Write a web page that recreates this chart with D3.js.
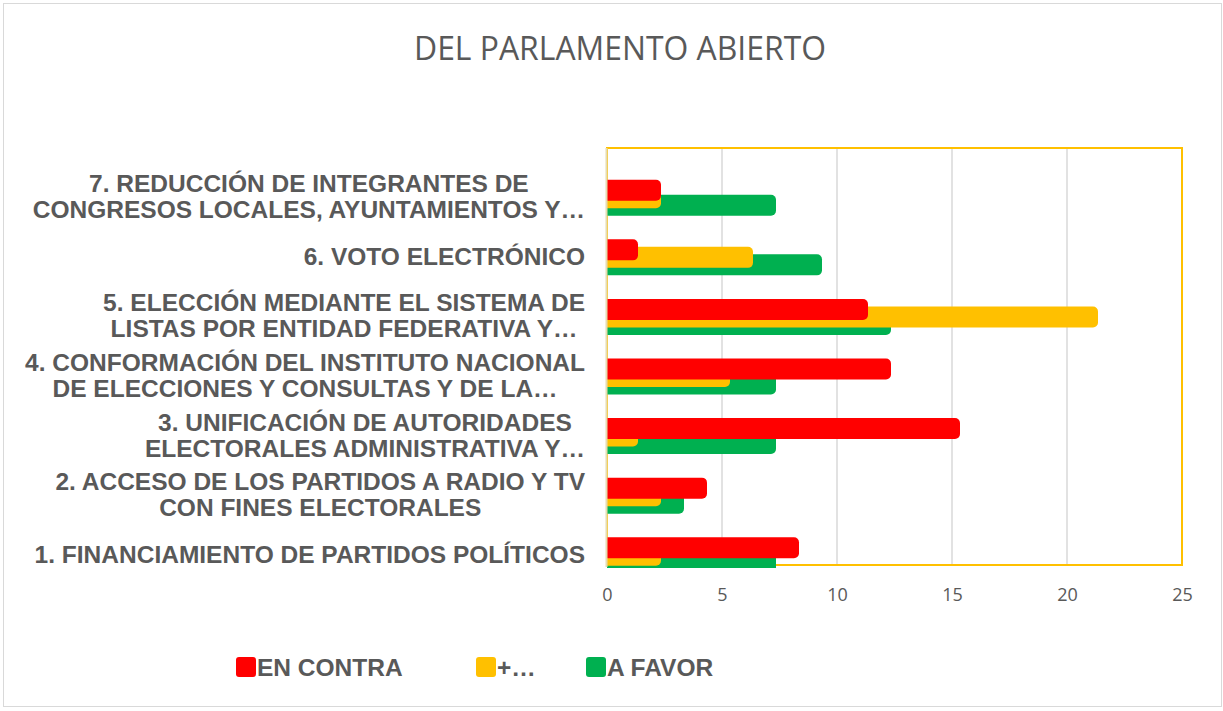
<!DOCTYPE html>
<html>
<head>
<meta charset="utf-8">
<script src="https://cdn.jsdelivr.net/npm/d3@7"></script>
<style>
  html, body { margin: 0; padding: 0; background: #fff; }
  svg { display: block; }
</style>
</head>
<body>
<svg id="chart" width="1223" height="711"></svg>
<script>
// ---- DATA ----
const title = "DEL PARLAMENTO ABIERTO";
const categories = [
  ["1. FINANCIAMIENTO DE PARTIDOS POLÍTICOS"],
  ["2. ACCESO DE LOS PARTIDOS A RADIO Y TV", "CON FINES ELECTORALES"],
  ["3. UNIFICACIÓN DE AUTORIDADES", "ELECTORALES ADMINISTRATIVA Y…"],
  ["4. CONFORMACIÓN DEL INSTITUTO NACIONAL", "DE ELECCIONES Y CONSULTAS Y DE LA…"],
  ["5. ELECCIÓN MEDIANTE EL SISTEMA DE", "LISTAS POR ENTIDAD FEDERATIVA Y…"],
  ["6. VOTO ELECTRÓNICO"],
  ["7. REDUCCIÓN DE INTEGRANTES DE", "CONGRESOS LOCALES, AYUNTAMIENTOS Y…"]
];
const seriesNames = ["EN CONTRA", "+…", "A FAVOR"];
const enContra = [8, 4, 15, 12, 11, 1, 2];
const masValues = [2, 2, 1, 5, 21, 6, 2];
const aFavor   = [7, 3, 7, 7, 12, 9, 7];
const xTicks = [0, 5, 10, 15, 20, 25];
const seriesColors = ["#FF0000", "#FFC000", "#00B050"];

// ---- LAYOUT ----
const svg = d3.select("#chart");
const plot = { left: 607, right: 1182, top: 148, bottom: 565 };
const textColor = "#595959";

const x = d3.scaleLinear().domain([0, 25]).range([plot.left, plot.right]);
const ids = categories.map((c, i) => i);
const y = d3.scaleBand().domain(ids.slice().reverse()).range([plot.top, plot.bottom]);

// outer border
svg.append("rect").attr("x", 3.5).attr("y", 3.5).attr("width", 1218).attr("height", 703)
  .attr("fill", "#fff").attr("stroke", "#D9D9D9").attr("stroke-width", 1);

// title
svg.append("text").attr("x", 620).attr("y", 60)
  .attr("text-anchor", "middle")
  .attr("font-family", "'Open Sans', sans-serif").attr("font-weight", 400)
  .attr("font-size", 33).attr("fill", textColor)
  .attr("textLength", 412).attr("lengthAdjust", "spacingAndGlyphs")
  .text(title);

// gridlines
svg.append("g").selectAll("line").data(xTicks.filter(t => t > 0 && t < 25)).join("line")
  .attr("x1", d => x(d)).attr("x2", d => x(d))
  .attr("y1", plot.top).attr("y2", plot.bottom)
  .attr("stroke", "#D9D9D9").attr("stroke-width", 1.5);

// plot border
svg.append("rect").attr("x", plot.left).attr("y", plot.top)
  .attr("width", plot.right - plot.left).attr("height", plot.bottom - plot.top)
  .attr("fill", "none").attr("stroke", "#FFC000").attr("stroke-width", 2);

// clip
svg.append("defs").append("clipPath").attr("id", "clip")
  .append("rect").attr("x", plot.left).attr("y", plot.top)
  .attr("width", 1223 - plot.left).attr("height", plot.bottom + 3 - plot.top);

const groupShift = 20;      // group centre offset vs band centre
const barH = 21;
const capExt = 8;           // rounded end extension
const seriesOffsets = [-18, -10.5, -3];
const seriesData = [enContra, masValues, aFavor];

const barsG = svg.append("g").attr("clip-path", "url(#clip)");
// draw green first, then yellow, then red on top
[2, 1, 0].forEach(s => {
  barsG.append("g").selectAll("rect").data(seriesData[s]).join("rect")
    .attr("x", x(0) - 8)
    .attr("y", (d, i) => y(i) + y.bandwidth() / 2 + groupShift + seriesOffsets[s])
    .attr("width", d => x(d) - x(0) + capExt + 8)
    .attr("height", barH)
    .attr("rx", 5).attr("ry", 5)
    .attr("fill", seriesColors[s]);
});

// left axis line
svg.append("line").attr("x1", plot.left - 0.5).attr("x2", plot.left - 0.5)
  .attr("y1", plot.top).attr("y2", plot.bottom + 2)
  .attr("stroke", "#E6DCB0").attr("stroke-width", 2);

// x axis tick labels
const xAxis = d3.axisBottom(x).tickValues(xTicks).tickSize(0).tickPadding(0);
const xg = svg.append("g").attr("transform", `translate(0, ${plot.bottom + 23})`).call(xAxis);
xg.select(".domain").remove();
xg.selectAll("text").attr("font-family", "'Open Sans', sans-serif").attr("font-size", 18)
  .attr("fill", textColor);

// category labels
const labelRight = 585;
const lineGap = 26;
const labG = svg.append("g");
categories.forEach((lines, i) => {
  const cy = y(i) + y.bandwidth() / 2 + groupShift;
  const t = labG.append("text")
    .attr("font-family", "'Liberation Sans', Arial, sans-serif")
    .attr("font-weight", "bold").attr("font-size", 24.5).attr("fill", textColor)
    .attr("text-anchor", "middle");
  const n = lines.length;
  const spans = lines.map((ln, k) => t.append("tspan")
    .attr("y", cy + 7.5 + (k - (n - 1) / 2) * lineGap).text(ln));
  const w = d3.max(spans, sp => sp.node().getComputedTextLength());
  spans.forEach(sp => sp.attr("x", labelRight - w / 2));
});

// legend
const legendItems = [
  { name: seriesNames[0], color: seriesColors[0], x: 236 },
  { name: seriesNames[1], color: seriesColors[1], x: 476 },
  { name: seriesNames[2], color: seriesColors[2], x: 586 }
];
const lg = svg.append("g");
legendItems.forEach(it => {
  lg.append("rect").attr("x", it.x).attr("y", 657).attr("width", 20).attr("height", 20)
    .attr("rx", 3).attr("fill", it.color);
  lg.append("text").attr("x", it.x + 21).attr("y", 676)
    .attr("font-family", "'Liberation Sans', Arial, sans-serif")
    .attr("font-weight", "bold").attr("font-size", 24.5).attr("fill", textColor)
    .text(it.name);
});
</script>
</body>
</html>
